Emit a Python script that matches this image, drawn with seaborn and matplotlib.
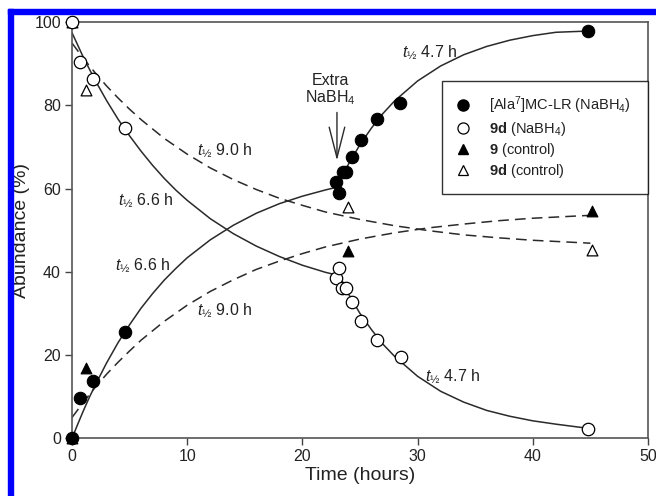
import matplotlib
matplotlib.use("Agg")
import matplotlib.pyplot as plt
from matplotlib.patches import Rectangle
from matplotlib.lines import Line2D
import seaborn as sns
import pandas as pd

# ---------------- data ----------------
# measured points
ala_t = [0, 0.7, 1.8, 4.6, 22.9, 23.2, 23.55, 23.8, 24.3, 25.1, 26.5, 28.5, 44.8]
ala_y = [0, 9.6, 13.8, 25.6, 61.6, 59.0, 64.0, 64.0, 67.5, 71.8, 76.7, 80.6, 97.9]

d9_t = [0, 0.7, 1.8, 4.6, 22.9, 23.2, 23.4, 23.8, 24.3, 25.1, 26.5, 28.6, 44.8]
d9_y = [100, 90.5, 86.3, 74.6, 38.6, 41.0, 36.2, 36.2, 32.7, 28.2, 23.6, 19.6, 2.2]

c9_t = [0, 1.2, 24.0, 45.1]
c9_y = [0, 16.8, 45.0, 54.6]

c9d_t = [0, 1.2, 24.0, 45.1]
c9d_y = [100, 83.7, 55.6, 45.2]

# fitted curves
ph1_t = [0, 0.5, 1, 1.5, 2, 3, 4, 5, 6, 7, 8, 9, 10, 12, 14, 16, 18, 20, 22, 22.9]
ph1_rise = [0, 3.4, 6.7, 9.8, 12.7, 18.1, 23.0, 27.3, 31.3, 34.8, 38.0, 40.8, 43.4,
            47.7, 51.2, 54.1, 56.4, 58.2, 59.7, 60.3]
ph1_fall = [97.5, 94.5, 91.5, 88.8, 86.1, 81.2, 76.7, 72.7, 69.0, 65.6, 62.5, 59.7, 57.2,
            52.8, 49.2, 46.2, 43.7, 41.6, 39.9, 39.3]

ph2_t = [23, 24, 25, 26, 27, 28, 30, 32, 34, 36, 38, 40, 42, 44.8]
ph2_rise = [60.5, 65.9, 70.6, 74.6, 78.1, 81.1, 85.9, 89.5, 92.2, 94.2, 95.7, 96.8, 97.6, 97.9]
ph2_fall = [40.0, 34.7, 30.0, 26.1, 22.6, 19.7, 14.9, 11.3, 8.7, 6.7, 5.3, 4.2, 3.4, 2.4]

ctl_t = [0, 1, 2, 3, 4, 5, 6, 8, 10, 12, 14, 16, 18, 20, 22, 25, 28, 31, 34, 37, 40, 45]
ctl_fall = [95.0, 91.3, 87.9, 84.7, 81.8, 79.1, 76.6, 72.1, 68.3, 65.0, 62.2, 59.8, 57.7,
            56.0, 54.4, 52.6, 51.1, 49.9, 48.9, 48.2, 47.6, 46.9]
ctl_rise = [5.0, 8.7, 12.2, 15.4, 18.3, 21.0, 23.6, 28.1, 32.0, 35.3, 38.1, 40.6, 42.6,
            44.4, 46.0, 47.9, 49.4, 50.6, 51.5, 52.3, 52.9, 53.6]

legend_labels = [r"[Ala$^{7}$]MC-LR (NaBH$_{4}$)", r"$\mathbf{9d}$ (NaBH$_{4}$)",
                 r"$\mathbf{9}$ (control)", r"$\mathbf{9d}$ (control)"]

xticks = [0, 10, 20, 30, 40, 50]
yticks = [0, 20, 40, 60, 80, 100]

# ---------------- style ----------------
sns.set_theme(style="ticks")
plt.rcParams["font.family"] = ["Liberation Sans", "DejaVu Sans"]
plt.rcParams["mathtext.fontset"] = "custom"
plt.rcParams["mathtext.rm"] = "Liberation Sans"
plt.rcParams["mathtext.it"] = "Liberation Sans:italic"
plt.rcParams["mathtext.bf"] = "Liberation Sans:bold"
plt.rcParams["mathtext.sf"] = "Liberation Sans"

LC = "#2a2a2a"
fig = plt.figure(figsize=(6.56, 4.96), dpi=100)
ax = fig.add_axes([72 / 656, 1 - 438.3 / 496, 576 / 656, 416 / 496])

dash = (0, (7, 4))
for t, y, ls in [(ph1_t, ph1_rise, "-"), (ph1_t, ph1_fall, "-"),
                 (ph2_t, ph2_rise, "-"), (ph2_t, ph2_fall, "-"),
                 (ctl_t, ctl_fall, dash), (ctl_t, ctl_rise, dash)]:
    sns.lineplot(x=t, y=y, ax=ax, sort=False, estimator=None, color=LC,
                 linewidth=1.1, linestyle=ls, legend=False)

S = 80
ST = 60
sns.scatterplot(x=ala_t, y=ala_y, ax=ax, marker="o", s=S, color="black",
                edgecolor="black", linewidth=0.8, clip_on=False, zorder=5)
sns.scatterplot(x=d9_t, y=d9_y, ax=ax, marker="o", s=S, facecolor="white",
                edgecolor="black", linewidth=0.9, clip_on=False, zorder=5)
sns.scatterplot(x=c9_t, y=c9_y, ax=ax, marker="^", s=ST, color="black",
                edgecolor="black", linewidth=0.8, clip_on=False, zorder=4)
sns.scatterplot(x=c9d_t, y=c9d_y, ax=ax, marker="^", s=ST, facecolor="white",
                edgecolor="black", linewidth=0.9, clip_on=False, zorder=4)

ax.set_xlim(0, 50)
ax.set_ylim(0, 100)
ax.set_xticks(xticks)
ax.set_yticks(yticks)
ax.tick_params(direction="out", length=5, width=1, color="#444444",
               labelsize=11.5, labelcolor="#222222", pad=3)
for sp in ax.spines.values():
    sp.set_color("#555555")
    sp.set_linewidth(1.2)
ax.set_xlabel("Time (hours)", fontsize=14, color="#222222", labelpad=2)
ax.set_ylabel("Abundance (%)", fontsize=14, color="#222222", labelpad=3)

# half-life labels
TF = 11.5
for x, y, s in [(10.85, 69.2, "9.0 h"), (4.0, 57.2, "6.6 h"), (3.73, 41.6, "6.6 h"),
                (10.85, 30.9, "9.0 h"), (28.65, 92.8, "4.7 h"), (30.6, 15.0, "4.7 h")]:
    ax.text(x, y, r"$t_{½}$ " + s, fontsize=TF, ha="left", va="center", color="#222222")

# extra NaBH4 annotation
ax.annotate("", xy=(23.0, 66.1), xytext=(23.0, 79.0),
            arrowprops=dict(arrowstyle="->,head_length=1.1,head_width=0.28",
                            mutation_scale=20, color=LC, lw=1.0))
ax.text(22.4, 79.6, "Extra\nNaBH$_{4}$", fontsize=11.5, ha="center", va="bottom",
        linespacing=1.05, color="#222222")

# legend
handles = [
    Line2D([], [], ls="none", marker="o", ms=8, mfc="black", mec="black"),
    Line2D([], [], ls="none", marker="o", ms=8, mfc="white", mec="black", mew=0.9),
    Line2D([], [], ls="none", marker="^", ms=7.5, mfc="black", mec="black"),
    Line2D([], [], ls="none", marker="^", ms=7.5, mfc="white", mec="black", mew=0.9),
]
leg = ax.legend(handles, legend_labels, loc="upper left",
                bbox_to_anchor=(0.642, 0.59, 0.358, 0.269), mode="expand",
                borderaxespad=0, fontsize=10.5, frameon=True, fancybox=False,
                edgecolor="black", handlelength=1.0, handletextpad=1.3,
                borderpad=0.95, labelspacing=0.22)
leg.get_frame().set_linewidth(1.0)
for text in leg.get_texts():
    text.set_color("#222222")

# blue frame on top and left edge
fig.patches.append(Rectangle((8 / 656, 0), 5 / 656, 1 - 9 / 496, transform=fig.transFigure,
                             color="#0000ff", zorder=10))
fig.patches.append(Rectangle((8 / 656, 1 - 14 / 496), 1 - 8 / 656, 5 / 496,
                             transform=fig.transFigure, color="#0000ff", zorder=10))

fig.savefig("out.png", dpi=100)
